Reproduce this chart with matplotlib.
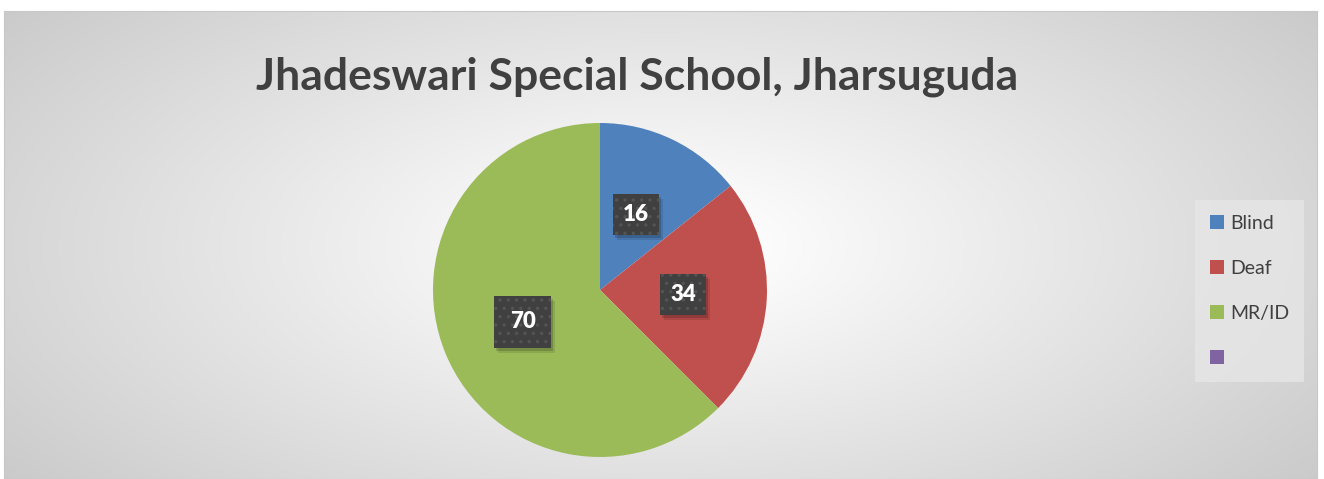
import numpy as np
import matplotlib
matplotlib.use('Agg')
import matplotlib.pyplot as plt
from matplotlib.patches import Rectangle

plt.rcParams['font.family'] = ['Lato', 'DejaVu Sans']

# data
categories = ['Blind', 'Deaf', 'MR/ID', '']
# slice sizes as drawn in the picture (the Deaf slice is smaller than its label)
values = [16, 26, 70, 0]
data_labels = ['16', '34', '70', '']
colors = ['#4F81BD', '#C0504D', '#9BBB59', '#8064A2']
box_pads = [0.45, 0.45, 0.7, 0.45]

W, H = 1324, 479
fig = plt.figure(figsize=(W / 100, H / 100), dpi=100)
fig.patch.set_facecolor('white')

# chart area with radial gradient
bx0, by0, bx1, by1 = 4, 11, 1317, 479
bg = fig.add_axes([bx0 / W, 1 - by1 / H, (bx1 - bx0) / W, (by1 - by0) / H])
yy, xx = np.mgrid[by0:by1, bx0:bx1]
dn = np.hypot((xx - 660) / 660, (yy - 245) / 300)
v = 255 - 60 * np.clip((dn - 0.08) / 1.35, 0, 1)
bg.imshow(np.dstack([v, v, v]).astype(np.uint8), aspect='auto',
          extent=(0, 1, 0, 1), interpolation='bilinear')
bg.set_xticks([])
bg.set_yticks([])
for s in bg.spines.values():
    s.set_color('#c8c8c8')
    s.set_linewidth(0.8)
bg.set_zorder(0)

# pie
cx, cy, r = 600, 290, 167
ax = fig.add_axes([(cx - r) / W, (H - cy - r) / H, 2 * r / W, 2 * r / H])
lbl = iter(data_labels)
wedges, texts, autotexts = ax.pie(values, colors=colors, startangle=90,
                                  counterclock=False, radius=1,
                                  autopct=lambda p: next(lbl), pctdistance=0.5,
                                  wedgeprops=dict(linewidth=0),
                                  textprops=dict(color='white', fontsize=16,
                                                 fontweight='heavy', zorder=5))
ax.set_xlim(-1, 1)
ax.set_ylim(-1, 1)
ax.set_aspect('equal')
ax.axis('off')

# data label boxes: dark dotted fill with a soft drop shadow
plt.rcParams['hatch.linewidth'] = 1.2
for t, pad in zip(autotexts, box_pads):
    t.set_bbox(dict(boxstyle='square,pad=%s' % pad, facecolor='#404040',
                    edgecolor='#545454', linewidth=0, hatch='..'))

fig.canvas.draw()
inv = ax.transData.inverted()
for t in autotexts:
    if not t.get_text():
        continue
    bb = t.get_bbox_patch().get_window_extent()
    for k, a in ((2, 0.10), (0, 0.16)):
        (x0, y0), (x1, y1) = inv.transform([(bb.x0 + 2 + k, bb.y0 - 3 - k),
                                            (bb.x1 + 2 + k, bb.y1 - 3 - k)])
        ax.add_patch(Rectangle((x0, y0), x1 - x0, y1 - y0, facecolor='black',
                               alpha=a, linewidth=0, zorder=4))

# title
fig.text(637 / W, 1 - 77 / H, 'Jhadeswari Special School, Jharsuguda',
         ha='center', va='center', fontsize=32, fontweight='bold', color='#404040')

# legend
leg = fig.legend(wedges, categories, loc='upper left',
                 bbox_to_anchor=(1195 / W, 1 - 200 / H), fontsize=14,
                 frameon=True, fancybox=False, facecolor='#e6e6e6',
                 edgecolor='none', framealpha=0.8, handlelength=0.72,
                 handleheight=0.72, handletextpad=0.35, labelspacing=1.45,
                 borderpad=0.75, borderaxespad=0)
for t in leg.get_texts():
    t.set_color('#404040')

fig.savefig('out.png', dpi=100)
